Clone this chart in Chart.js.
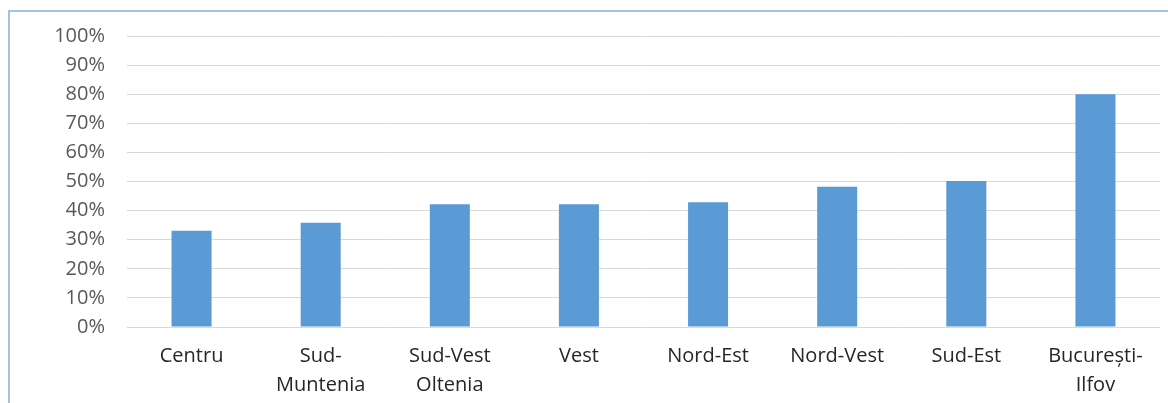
<!DOCTYPE html>
<html>
<head>
<meta charset="utf-8">
<script src="https://cdn.jsdelivr.net/npm/chart.js@4"></script>
<style>
  html, body { margin: 0; padding: 0; background: #fff; overflow: hidden; }
  #frame { position: absolute; left: 8px; top: 10px; width: 2000px; height: 1000px;
           border-left: 2px solid #a3c0e6; border-top: 2px solid #a3c0e6; }
  #wrap { position: absolute; left: 0; top: 0; width: 1168px; height: 403px; }
</style>
</head>
<body>
<div id="frame"></div>
<div id="wrap"><canvas id="regionChart"></canvas></div>
<script>
// regions (multi-line labels as arrays)
const regions = [
  'Centru',
  ['Sud-', 'Muntenia'],
  ['Sud-Vest', 'Oltenia'],
  'Vest',
  'Nord-Est',
  'Nord-Vest',
  'Sud-Est',
  ['București-', 'Ilfov']
];

// share per region, in percent
const shares = [33.1, 35.8, 42.2, 42.2, 42.9, 48.2, 50.2, 80.0];

// y axis ticks
const yTicks = [0, 10, 20, 30, 40, 50, 60, 70, 80, 90, 100];

const ctx = document.getElementById('regionChart').getContext('2d');

var regionChart = new Chart(ctx, {
  type: 'bar',
  data: {
    labels: regions,
    datasets: [
      {
        data: shares,
        backgroundColor: '#5b9bd5',
        borderWidth: 0,
        barPercentage: 1,
        categoryPercentage: 0.31
      }
    ]
  },
  options: {
    responsive: true,
    maintainAspectRatio: false,
    animation: false,
    devicePixelRatio: 1,
    layout: {
      padding: { top: 36, right: 8, bottom: 0, left: 0 }
    },
    plugins: {
      legend: { display: false },
      tooltip: { enabled: false }
    },
    scales: {
      x: {
        grid: { display: false },
        border: { display: false },
        ticks: {
          autoSkip: false,
          maxRotation: 0,
          minRotation: 0,
          padding: 7,
          color: '#262626',
          font: { family: 'Open Sans', size: 20, lineHeight: 1.45 }
        },
        afterFit: function(scale) { scale.height = 76; }
      },
      y: {
        min: 0,
        max: 100,
        afterBuildTicks: function(scale) {
          scale.ticks = yTicks.map(v => ({ value: v }));
        },
        grid: { color: '#d9d9d9', lineWidth: 1, drawTicks: false },
        border: { display: false },
        ticks: {
          padding: 22,
          color: '#595959',
          font: { family: 'Open Sans', size: 20 },
          callback: function(v) { return v + '%'; }
        },
        afterFit: function(scale) { scale.width = 127; }
      }
    }
  }
});
</script>
</body>
</html>
